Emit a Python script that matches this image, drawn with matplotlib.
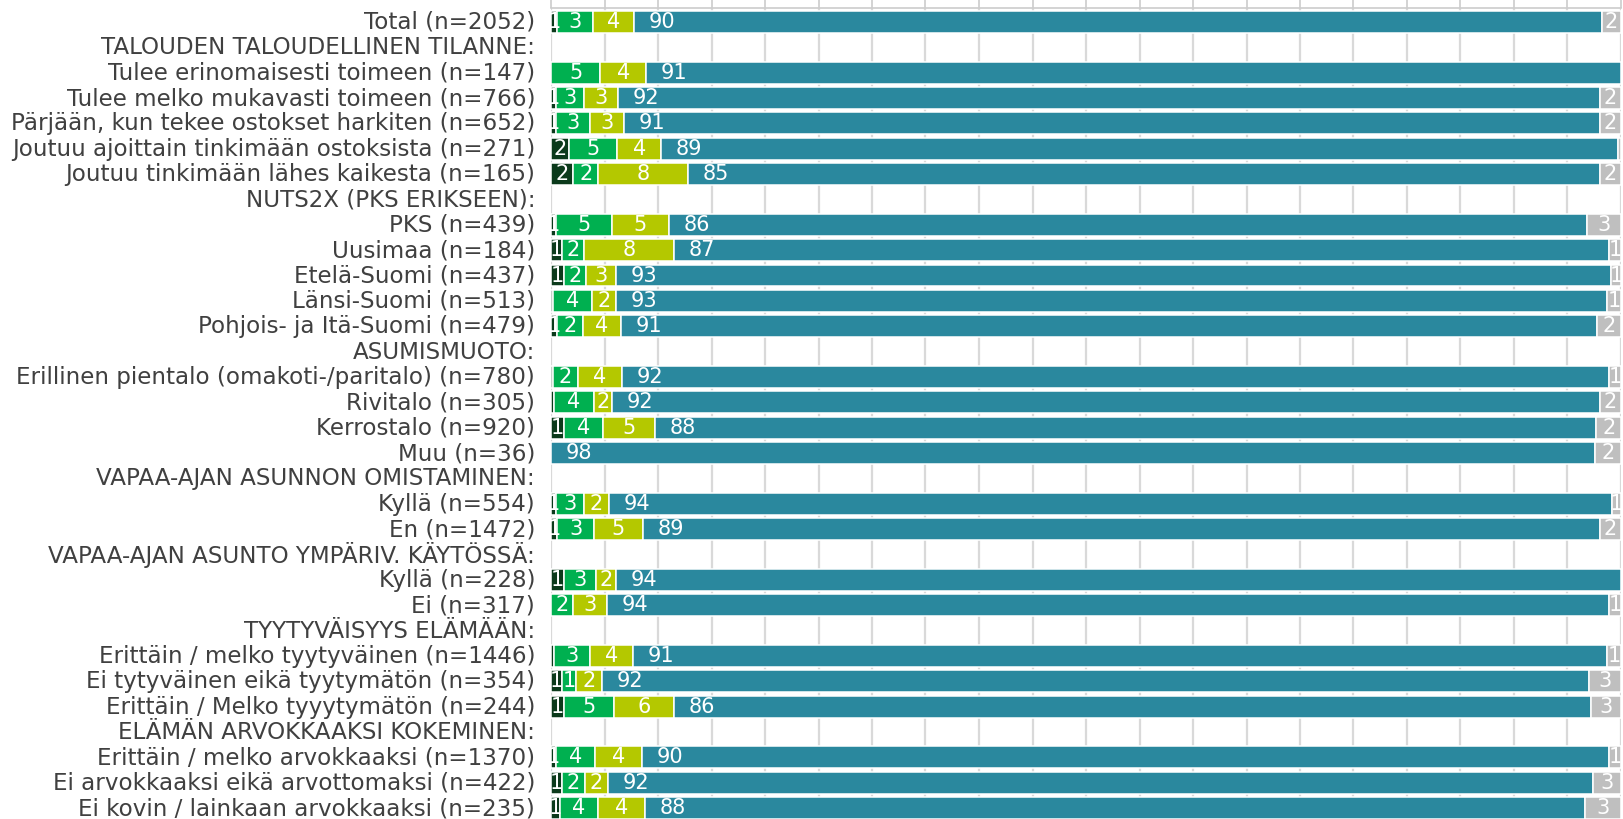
import numpy as np
import matplotlib
matplotlib.use("Agg")
import matplotlib.pyplot as plt
from matplotlib.transforms import ScaledTranslation

nan = np.nan

categories = [
    "Total (n=2052)",
    "TALOUDEN TALOUDELLINEN TILANNE:",
    "Tulee erinomaisesti toimeen (n=147)",
    "Tulee melko mukavasti toimeen (n=766)",
    "Pärjään, kun tekee ostokset harkiten (n=652)",
    "Joutuu ajoittain tinkimään ostoksista (n=271)",
    "Joutuu tinkimään lähes kaikesta (n=165)",
    "NUTS2X (PKS ERIKSEEN):",
    "PKS (n=439)",
    "Uusimaa (n=184)",
    "Etelä-Suomi (n=437)",
    "Länsi-Suomi (n=513)",
    "Pohjois- ja Itä-Suomi (n=479)",
    "ASUMISMUOTO:",
    "Erillinen pientalo (omakoti-/paritalo) (n=780)",
    "Rivitalo (n=305)",
    "Kerrostalo (n=920)",
    "Muu (n=36)",
    "VAPAA-AJAN ASUNNON OMISTAMINEN:",
    "Kyllä (n=554)",
    "En (n=1472)",
    "VAPAA-AJAN ASUNTO YMPÄRIV. KÄYTÖSSÄ:",
    "Kyllä (n=228)",
    "Ei (n=317)",
    "TYYTYVÄISYYS ELÄMÄÄN:",
    "Erittäin / melko tyytyväinen (n=1446)",
    "Ei tytyväinen eikä tyytymätön (n=354)",
    "Erittäin / Melko tyyytymätön (n=244)",
    "ELÄMÄN ARVOKKAAKSI KOKEMINEN:",
    "Erittäin / melko arvokkaaksi (n=1370)",
    "Ei arvokkaaksi eikä arvottomaksi (n=422)",
    "Ei kovin / lainkaan arvokkaaksi (n=235)",
]

s1 = [0.6, nan, 0.0, 0.5, 0.5, 1.7, 2.1, nan, 0.5, 1.0, 1.2, 0.2, 0.6, nan,
      0.2, 0.3, 1.2, 0.0, nan, 0.5, 0.6, nan, 1.2, 0.0, nan, 0.3, 1.05, 1.2,
      nan, 0.5, 1.05, 0.8]
s2 = [3.3, nan, 4.6, 2.6, 3.1, 4.5, 2.3, nan, 5.2, 2.1, 2.1, 3.6, 2.4, nan,
      2.3, 3.7, 3.7, 0.0, nan, 2.6, 3.4, nan, 3.0, 2.1, nan, 3.3, 1.3, 4.7,
      nan, 3.6, 2.1, 3.6]
s3 = [3.9, nan, 4.3, 3.2, 3.2, 4.1, 8.4, nan, 5.3, 8.4, 2.8, 2.3, 3.5, nan,
      4.1, 1.7, 4.8, 0.0, nan, 2.3, 4.6, nan, 1.9, 3.1, nan, 4.1, 2.45, 5.6,
      nan, 4.4, 2.2, 4.4]
s4 = [90.4, nan, 91.1, 91.7, 91.2, 89.4, 85.2, nan, 85.8, 87.4, 92.95, 92.6,
      91.3, nan, 92.3, 92.3, 88.0, 97.6, nan, 93.8, 89.4, nan, 93.9, 93.7, nan,
      91.0, 92.2, 85.7, nan, 90.4, 92.05, 87.8]
s5 = [1.8, nan, 0.0, 2.0, 2.0, 0.3, 2.0, nan, 3.2, 1.1, 0.95, 1.3, 2.2, nan,
      1.1, 2.0, 2.3, 2.4, nan, 0.8, 2.0, nan, 0.0, 1.1, nan, 1.3, 3.0, 2.8,
      nan, 1.1, 2.6, 3.4]

colors = ["#0b3a1b", "#00b050", "#b4c800", "#2a889e", "#bfbfbf"]

fig = plt.figure(figsize=(16.24, 8.19), dpi=100)
ax = fig.add_axes([551 / 1624, 0.0, 1070 / 1624, 811 / 819])

n = len(categories)
y = np.arange(n)
left = np.zeros(n)
for k, (vals, col) in enumerate(zip([s1, s2, s3, s4, s5], colors)):
    v = np.nan_to_num(np.array(vals, dtype=float))
    for i in range(n):
        if v[i] <= 0:
            continue
        rect = ax.barh(y[i], v[i], left=left[i], height=0.86, color=col,
                       edgecolor="white", linewidth=1.1, zorder=3)[0]
        if v[i] >= 0.4:
            lab = str(int(v[i] + 0.5))
            if k == 3:
                t = ax.annotate(lab, (left[i], y[i]), xytext=(10.5, 0),
                                textcoords="offset points", ha="left",
                                va="center", color="white", fontsize=15,
                                zorder=4)
            else:
                t = ax.text(left[i] + v[i] / 2, y[i], lab, ha="center",
                            va="center", color="white", fontsize=15,
                            zorder=4)
            t.set_clip_path(rect)
    left += v

ax.set_xlim(0, 100)
ax.set_ylim(31.43, -0.55)
ax.set_xticks(np.arange(0, 101, 5))
ax.grid(axis="x", color="#d9d9d9", linewidth=1.6, zorder=0)
ax.set_axisbelow(True)
ax.xaxis.tick_top()
ax.tick_params(axis="x", length=6, color="#cccccc", width=1.2,
               labeltop=False, labelbottom=False)
ax.set_yticks(y)
ax.set_yticklabels(categories, fontsize=16.6, color="#404040")
ax.tick_params(axis="y", length=0, pad=11.5)
shift = ScaledTranslation(0, 2 / 100, fig.dpi_scale_trans)
for lbl in ax.get_yticklabels():
    lbl.set_transform(lbl.get_transform() + shift)
for s in ["left", "right", "bottom"]:
    ax.spines[s].set_visible(False)
ax.spines["top"].set_color("#cccccc")
ax.spines["top"].set_linewidth(1.2)

fig.savefig("out.png", dpi=100)
